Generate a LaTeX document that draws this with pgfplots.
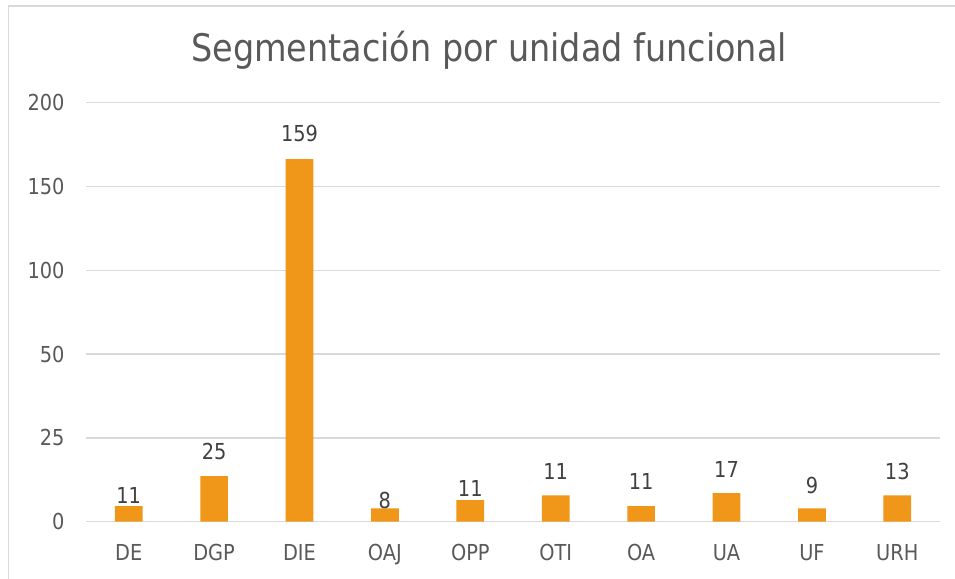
\documentclass[border=0pt]{standalone}
\usepackage{fontspec}
\setmainfont{DejaVu Sans}[FakeStretch=0.88]
\usepackage{pgfplots}
\usepackage{pgfplotstable}
\pgfplotsset{compat=1.18}
\definecolor{barorange}{RGB}{240,150,25}
\definecolor{gridgray}{RGB}{217,217,217}
\definecolor{txtgray}{RGB}{89,89,89}
\definecolor{lblgray}{RGB}{64,64,64}
\pgfplotstableread{
x bar lab ly
0 0.187 11 0.318
1 0.544 25 0.833
2 4.326 159 4.627
3 0.159 8 0.258
4 0.258 11 0.401
5 0.314 11 0.595
6 0.187 11 0.476
7 0.342 17 0.627
8 0.159 9 0.437
9 0.314 13 0.595
}\datatable
\begin{document}
\begin{tikzpicture}
\path[use as bounding box] (0,0) rectangle (955bp,579bp);
\draw[gridgray, line width=1.3bp] (8.3bp,0) -- (8.3bp,573bp) -- (955bp,573bp);
\node[anchor=base, text=txtgray, font=\fontsize{38bp}{44bp}\selectfont] at (489bp,517bp) {Segmentación por unidad funcional};
\begin{axis}[
  at={(86bp,57.3bp)}, anchor=south west,
  width=854bp, height=419bp, scale only axis,
  xmin=-0.5, xmax=9.5, ymin=0, ymax=5,
  axis line style={draw=none},
  tick style={draw=none},
  ymajorgrids, grid style={gridgray, line width=1.3bp},
  ytick={0,1,2,3,4,5},
  yticklabels={0,25,50,100,150,200},
  xtick={0,...,9},
  xticklabels={DE,DGP,DIE,OAJ,OPP,OTI,OA,UA,UF,URH},
  /pgf/number format/assume math mode=true,
  ticklabel style={text=txtgray, font=\fontsize{22bp}{26bp}\selectfont},
  yticklabel style={anchor=east, xshift=-18bp},
  xticklabel style={anchor=north, yshift=-19bp},
  clip=false,
]
\addplot[ybar, bar width=27.7bp, fill=barorange, draw=none, bar shift=0pt] table[x=x, y=bar] {\datatable};
\addplot[draw=none, mark=none, nodes near coords, point meta=explicit symbolic,
  nodes near coords style={anchor=center, text=lblgray, font=\fontsize{22bp}{26bp}\selectfont}]
  table[x=x, y=ly, meta=lab] {\datatable};
\end{axis}
\end{tikzpicture}
\end{document}
